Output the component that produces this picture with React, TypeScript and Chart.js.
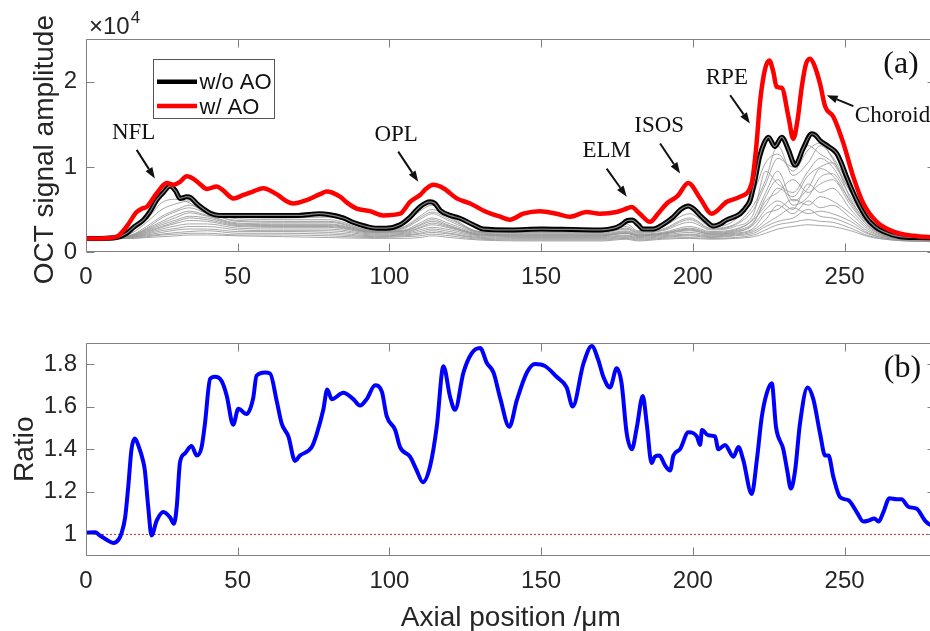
import React, { useEffect, useRef } from 'react';
import { Chart, registerables } from 'chart.js';

Chart.register(...registerables);

// ---------- tick labels ----------
const X_TICKS = [0, 50, 100, 150, 200, 250];
const AMP_TICKS = [0, 1, 2];
const RATIO_TICKS = [1, 1.2, 1.4, 1.6, 1.8];

// ---------- (a) OCT signal amplitude, units of 1e4 ----------
const woAoX = [0, 5, 10, 13.4, 16, 18.9, 21, 23.3, 25.5, 27.7, 29.5, 31, 33.2, 34.5, 36.5, 39, 40.9, 44, 50, 60, 70, 77, 80, 84.8, 88, 92.5, 96, 99, 103.5, 106.8, 110, 113.4, 115, 116.7, 120, 123, 127.6, 130.9, 140, 150, 160, 170, 174, 176, 178.5, 180, 182, 183.6, 187, 190, 193.5, 196, 198.5, 200.5, 202.4, 204.5, 206.7, 209, 211, 215.6, 218, 218.9, 220.5, 222, 223.5, 224.9, 227, 229.3, 231.5, 233.7, 236.4, 239.2, 240.5, 241.9, 244.7, 247.4, 249, 250.7, 254, 257.3, 260, 262.8, 268.3, 274, 280];
const woAoY = [0.16, 0.16, 0.17, 0.22, 0.30, 0.375, 0.47, 0.61, 0.70, 0.775, 0.72, 0.63, 0.65, 0.64, 0.57, 0.50, 0.455, 0.43, 0.43, 0.43, 0.43, 0.45, 0.44, 0.40, 0.35, 0.30, 0.28, 0.28, 0.32, 0.41, 0.53, 0.59, 0.57, 0.49, 0.43, 0.40, 0.32, 0.27, 0.26, 0.27, 0.265, 0.26, 0.28, 0.31, 0.37, 0.375, 0.32, 0.27, 0.27, 0.32, 0.41, 0.50, 0.54, 0.50, 0.43, 0.36, 0.305, 0.33, 0.375, 0.45, 0.55, 0.61, 0.85, 1.12, 1.28, 1.35, 1.24, 1.35, 1.20, 1.02, 1.22, 1.39, 1.37, 1.31, 1.24, 1.16, 1.04, 0.88, 0.61, 0.40, 0.30, 0.24, 0.18, 0.17, 0.165];

const wAoX = [0, 5, 10.1, 13.4, 16.7, 18.5, 20, 23.3, 26.6, 28.8, 31, 33.2, 35.4, 37.5, 39.8, 43.1, 45, 48.6, 51.9, 55, 58.4, 62.8, 66, 68.3, 72.7, 77.1, 79.3, 83.7, 86, 89.2, 93.6, 98, 103.5, 106.8, 110.1, 112, 114.5, 117.8, 122.2, 126.6, 132, 136.5, 139.7, 144.1, 149.6, 155.1, 159.5, 165, 169.4, 174.9, 177.5, 179.8, 182.5, 185.9, 188.5, 191.4, 195, 198.5, 202.4, 206.2, 211.2, 215.6, 219.4, 220.8, 222.2, 223.8, 225.2, 226.5, 227.6, 229.3, 231.5, 233.1, 234.5, 235.9, 237.2, 238.6, 240.2, 241.9, 243.6, 246.3, 249.6, 252.9, 256.2, 260.6, 266.1, 272.7, 280];
const wAoY = [0.16, 0.16, 0.18, 0.30, 0.47, 0.51, 0.53, 0.69, 0.81, 0.79, 0.825, 0.89, 0.86, 0.80, 0.74, 0.77, 0.73, 0.63, 0.67, 0.71, 0.75, 0.68, 0.60, 0.57, 0.61, 0.68, 0.71, 0.65, 0.58, 0.51, 0.48, 0.43, 0.45, 0.59, 0.67, 0.74, 0.79, 0.75, 0.63, 0.57, 0.47, 0.415, 0.38, 0.45, 0.48, 0.45, 0.415, 0.47, 0.45, 0.47, 0.50, 0.53, 0.45, 0.355, 0.45, 0.57, 0.66, 0.81, 0.63, 0.45, 0.59, 0.65, 0.81, 1.20, 1.78, 2.15, 2.25, 2.12, 1.94, 1.93, 1.59, 1.33, 1.55, 1.94, 2.20, 2.27, 2.18, 1.98, 1.71, 1.59, 1.28, 0.88, 0.57, 0.355, 0.24, 0.19, 0.17];

// individual (gray) traces, sampled at grayX
const grayX = [0, 10, 15, 20, 25, 30, 34, 40, 50, 65, 80, 95, 105, 110, 114, 120, 130, 150, 170, 178, 182, 190, 199, 206, 214, 220, 224, 228, 233, 238, 242, 246, 252, 258, 266, 280];
const gray01 = [0.16, 0.17, 0.25, 0.38, 0.58, 0.62, 0.58, 0.45, 0.41, 0.40, 0.41, 0.26, 0.33, 0.48, 0.55, 0.42, 0.24, 0.25, 0.25, 0.33, 0.25, 0.30, 0.45, 0.30, 0.38, 0.70, 1.05, 1.15, 0.95, 1.20, 1.28, 1.10, 0.70, 0.34, 0.19, 0.15];
const gray02 = [0.16, 0.17, 0.22, 0.35, 0.50, 0.57, 0.60, 0.50, 0.39, 0.38, 0.38, 0.25, 0.30, 0.42, 0.50, 0.40, 0.23, 0.24, 0.24, 0.30, 0.24, 0.27, 0.40, 0.28, 0.33, 0.55, 0.85, 1.25, 0.90, 1.05, 1.25, 1.12, 0.75, 0.38, 0.19, 0.15];
const gray03 = [0.16, 0.17, 0.20, 0.30, 0.42, 0.50, 0.55, 0.47, 0.36, 0.35, 0.35, 0.24, 0.28, 0.38, 0.45, 0.36, 0.23, 0.22, 0.22, 0.27, 0.22, 0.25, 0.35, 0.26, 0.30, 0.45, 0.95, 0.80, 0.70, 0.95, 1.10, 1.00, 0.65, 0.35, 0.19, 0.15];
const gray04 = [0.16, 0.17, 0.19, 0.27, 0.36, 0.44, 0.48, 0.43, 0.34, 0.33, 0.33, 0.24, 0.26, 0.34, 0.40, 0.33, 0.22, 0.21, 0.21, 0.25, 0.21, 0.23, 0.30, 0.24, 0.27, 0.40, 0.70, 0.95, 0.60, 0.75, 0.98, 0.90, 0.60, 0.33, 0.18, 0.14];
const gray05 = [0.16, 0.17, 0.19, 0.25, 0.32, 0.38, 0.42, 0.40, 0.32, 0.31, 0.31, 0.23, 0.25, 0.31, 0.36, 0.30, 0.21, 0.20, 0.20, 0.23, 0.20, 0.22, 0.27, 0.22, 0.25, 0.35, 0.60, 0.70, 0.85, 0.70, 0.80, 0.85, 0.55, 0.30, 0.18, 0.14];
const gray06 = [0.16, 0.16, 0.18, 0.23, 0.29, 0.34, 0.37, 0.36, 0.30, 0.29, 0.29, 0.22, 0.23, 0.28, 0.32, 0.28, 0.20, 0.19, 0.19, 0.22, 0.19, 0.21, 0.25, 0.21, 0.23, 0.32, 0.50, 0.60, 0.50, 0.80, 0.70, 0.75, 0.50, 0.28, 0.17, 0.14];
const gray07 = [0.16, 0.16, 0.18, 0.22, 0.27, 0.31, 0.33, 0.33, 0.28, 0.27, 0.27, 0.21, 0.22, 0.26, 0.29, 0.26, 0.19, 0.18, 0.18, 0.20, 0.18, 0.20, 0.23, 0.20, 0.22, 0.28, 0.45, 0.50, 0.62, 0.55, 0.65, 0.60, 0.45, 0.26, 0.16, 0.13];
const gray08 = [0.16, 0.16, 0.17, 0.21, 0.25, 0.28, 0.30, 0.30, 0.26, 0.25, 0.25, 0.20, 0.21, 0.24, 0.27, 0.24, 0.18, 0.17, 0.17, 0.19, 0.17, 0.19, 0.21, 0.19, 0.21, 0.26, 0.38, 0.55, 0.45, 0.60, 0.52, 0.55, 0.40, 0.24, 0.16, 0.13];
const gray09 = [0.16, 0.16, 0.17, 0.20, 0.23, 0.26, 0.27, 0.27, 0.24, 0.24, 0.23, 0.19, 0.20, 0.22, 0.25, 0.22, 0.17, 0.16, 0.16, 0.18, 0.16, 0.18, 0.20, 0.18, 0.20, 0.24, 0.33, 0.42, 0.52, 0.45, 0.48, 0.45, 0.36, 0.22, 0.15, 0.13];
const gray10 = [0.16, 0.16, 0.17, 0.19, 0.21, 0.23, 0.24, 0.25, 0.22, 0.22, 0.21, 0.18, 0.19, 0.21, 0.23, 0.21, 0.16, 0.15, 0.15, 0.17, 0.15, 0.17, 0.19, 0.17, 0.19, 0.22, 0.30, 0.36, 0.40, 0.50, 0.42, 0.40, 0.32, 0.21, 0.15, 0.12];
const gray11 = [0.16, 0.16, 0.16, 0.18, 0.20, 0.21, 0.22, 0.22, 0.20, 0.20, 0.19, 0.17, 0.18, 0.19, 0.21, 0.19, 0.15, 0.14, 0.14, 0.16, 0.14, 0.16, 0.17, 0.16, 0.17, 0.20, 0.26, 0.32, 0.35, 0.38, 0.36, 0.35, 0.28, 0.19, 0.14, 0.12];
const gray12 = [0.16, 0.16, 0.16, 0.17, 0.18, 0.19, 0.20, 0.20, 0.19, 0.18, 0.17, 0.16, 0.16, 0.17, 0.19, 0.17, 0.14, 0.13, 0.13, 0.15, 0.13, 0.15, 0.16, 0.15, 0.16, 0.18, 0.22, 0.27, 0.30, 0.32, 0.31, 0.30, 0.25, 0.18, 0.14, 0.12];
const gray13 = [0.16, 0.17, 0.20, 0.28, 0.40, 0.48, 0.52, 0.45, 0.37, 0.36, 0.36, 0.25, 0.29, 0.40, 0.47, 0.38, 0.24, 0.23, 0.23, 0.28, 0.23, 0.26, 0.38, 0.27, 0.32, 0.50, 0.80, 1.10, 1.00, 1.25, 1.15, 1.05, 0.70, 0.36, 0.19, 0.15];
const gray14 = [0.16, 0.17, 0.19, 0.26, 0.34, 0.41, 0.46, 0.42, 0.33, 0.32, 0.32, 0.24, 0.25, 0.32, 0.38, 0.31, 0.21, 0.20, 0.20, 0.24, 0.20, 0.22, 0.28, 0.23, 0.26, 0.38, 0.55, 0.75, 0.65, 0.90, 1.00, 1.05, 0.62, 0.32, 0.18, 0.14];
const gray15 = [0.16, 0.16, 0.18, 0.24, 0.30, 0.36, 0.40, 0.38, 0.31, 0.30, 0.30, 0.23, 0.24, 0.29, 0.34, 0.29, 0.20, 0.19, 0.19, 0.22, 0.19, 0.21, 0.26, 0.21, 0.24, 0.34, 0.65, 0.85, 0.55, 0.65, 0.88, 0.92, 0.58, 0.30, 0.17, 0.14];
const grayTraces = [gray01, gray02, gray03, gray04, gray05, gray06, gray07, gray08, gray09, gray10, gray11, gray12, gray13, gray14, gray15];

// ---------- (b) ratio ----------
const ratioX = [0, 3, 4.6, 6.8, 9, 10.7, 11.7, 12.9, 13.9, 15, 16.1, 17.2, 18.9, 19.4, 20.5, 21.6, 23.3, 25.5, 27.7, 29, 29.9, 31, 32.6, 34.8, 36.5, 38.1, 39.2, 40.9, 42.5, 44.7, 46.4, 48.5, 50.2, 52.9, 55.1, 56.2, 59, 60.7, 62.8, 64.5, 66.7, 68.9, 70.5, 74.4, 76, 78.2, 79.5, 81, 84.8, 88.1, 90.3, 92.5, 95.3, 97.5, 99.1, 101.9, 103.5, 106.8, 109, 111, 113.4, 115.6, 117.8, 120, 121.6, 124.4, 127.1, 129.9, 132.1, 134.3, 136.5, 139.5, 142, 145.3, 148, 151.3, 155.1, 158.4, 160.4, 163.9, 166.7, 168.8, 170.5, 172.7, 174.9, 176.5, 178.2, 179.9, 181.5, 183.5, 184.8, 186.4, 187.5, 189, 190.8, 192.5, 193.6, 195.8, 198.5, 201.3, 202.4, 203, 205.1, 207.3, 208.4, 210.6, 213.4, 215, 216.6, 219.4, 221.1, 222.7, 224.4, 226, 227.4, 229.8, 231.1, 232.3, 233.7, 235.3, 237.8, 239.7, 241.9, 243.6, 244.7, 246.3, 248.5, 251.3, 254, 256.2, 257.9, 259.8, 261.2, 262.8, 264.8, 267.2, 268.8, 271, 273.8, 276.5, 278.2, 280];
const ratioY = [1.008, 1.01, 0.995, 0.975, 0.96, 0.975, 1.005, 1.08, 1.22, 1.40, 1.45, 1.42, 1.34, 1.30, 1.13, 0.995, 1.065, 1.105, 1.08, 1.05, 1.13, 1.34, 1.38, 1.415, 1.37, 1.41, 1.52, 1.73, 1.74, 1.72, 1.65, 1.515, 1.59, 1.565, 1.64, 1.745, 1.76, 1.755, 1.63, 1.52, 1.46, 1.345, 1.37, 1.41, 1.47, 1.585, 1.68, 1.635, 1.665, 1.635, 1.605, 1.635, 1.70, 1.67, 1.555, 1.49, 1.41, 1.365, 1.30, 1.245, 1.32, 1.505, 1.79, 1.645, 1.585, 1.76, 1.85, 1.875, 1.805, 1.76, 1.64, 1.505, 1.63, 1.76, 1.80, 1.79, 1.74, 1.69, 1.60, 1.80, 1.885, 1.82, 1.74, 1.69, 1.78, 1.71, 1.475, 1.40, 1.50, 1.65, 1.52, 1.335, 1.365, 1.37, 1.325, 1.30, 1.37, 1.40, 1.48, 1.46, 1.42, 1.49, 1.465, 1.46, 1.40, 1.42, 1.365, 1.41, 1.35, 1.19, 1.35, 1.55, 1.665, 1.71, 1.505, 1.40, 1.30, 1.215, 1.30, 1.52, 1.69, 1.635, 1.475, 1.37, 1.37, 1.27, 1.175, 1.16, 1.105, 1.06, 1.065, 1.075, 1.06, 1.105, 1.17, 1.165, 1.165, 1.13, 1.12, 1.065, 1.045, 1.04];
const unityX = [0, 280];
const unityY = [1, 1];

// ---------- annotations (data coordinates) ----------
type Note = { text: string; x: number; y: number; x0: number; y0: number; x1: number; y1: number };
const LAYER_NOTES: Note[] = [
  { text: 'NFL', x: 15.7, y: 1.40, x0: 16.7, y0: 1.20, x1: 22.7, y1: 0.865 },
  { text: 'OPL', x: 102.2, y: 1.37, x0: 102.9, y0: 1.18, x1: 109.5, y1: 0.825 },
  { text: 'ELM', x: 171.6, y: 1.19, x0: 171.6, y0: 0.98, x1: 178.2, y1: 0.65 },
  { text: 'ISOS', x: 188.9, y: 1.485, x0: 189.2, y0: 1.276, x1: 195.8, y1: 0.924 },
  { text: 'RPE', x: 211.2, y: 2.048, x0: 212.3, y0: 1.843, x1: 218.8, y1: 1.511 },
  { text: 'Choroid', x: 265.8, y: 1.602, x0: 252.9, y0: 1.714, x1: 244.1, y1: 1.843 },
];

// ---------- styles ----------
const SANS = "'Liberation Sans', Arial, Helvetica, sans-serif";
const SERIF = "'Liberation Serif', 'Times New Roman', serif";
const TEXT = '#262626';
const FRAME = '#808080';
const RED = '#ff0000';
const BLUE = '#0000ff';
const GRAY = 'rgba(150,150,150,0.85)';

function pts(xs: number[], ys: number[]) {
  return xs.map((x, i) => ({ x, y: ys[i] }));
}

function line(data: any[], color: string, width: number, extra: any = {}) {
  return {
    data,
    borderColor: color,
    backgroundColor: color,
    borderWidth: width,
    pointRadius: 0,
    fill: false,
    cubicInterpolationMode: 'monotone',
    ...extra,
  };
}

function xScale(height: number) {
  return {
    type: 'linear',
    min: 0,
    max: 280,
    afterBuildTicks: (s: any) => {
      s.ticks = X_TICKS.map((v) => ({ value: v }));
    },
    afterFit: (s: any) => {
      s.height = height;
    },
    grid: { display: false, drawTicks: false },
    border: { display: false },
    ticks: {
      color: TEXT,
      font: { family: SANS, size: 24 },
      padding: 11,
      maxRotation: 0,
      autoSkip: false,
      callback: (v: any) => String(v),
    },
  };
}

function yScale(min: number, max: number, tickVals: number[]) {
  return {
    type: 'linear',
    min,
    max,
    afterBuildTicks: (s: any) => {
      s.ticks = tickVals.map((v) => ({ value: v }));
    },
    afterFit: (s: any) => {
      s.width = 86;
    },
    grid: { display: false, drawTicks: false },
    border: { display: false },
    ticks: {
      color: TEXT,
      font: { family: SANS, size: 24 },
      padding: 9,
      autoSkip: false,
      callback: (v: any) => String(v),
    },
  };
}

function drawFrame(chart: any) {
  const { ctx, chartArea: a, scales } = chart;
  const L = Math.round(a.left) + 0.5;
  const R = Math.round(a.right) - 0.5;
  const T = Math.round(a.top) + 0.5;
  const B = Math.round(a.bottom) - 0.5;
  const TL = 8;
  ctx.save();
  ctx.strokeStyle = FRAME;
  ctx.lineWidth = 1;
  ctx.beginPath();
  ctx.rect(L, T, R - L, B - T);
  scales.x.ticks.forEach((t: any) => {
    const p = Math.round(scales.x.getPixelForValue(t.value)) + 0.5;
    ctx.moveTo(p, B);
    ctx.lineTo(p, B - TL);
    ctx.moveTo(p, T);
    ctx.lineTo(p, T + TL);
  });
  scales.y.ticks.forEach((t: any) => {
    const p = Math.round(scales.y.getPixelForValue(t.value)) + 0.5;
    ctx.moveTo(L, p);
    ctx.lineTo(L + TL, p);
    ctx.moveTo(R, p);
    ctx.lineTo(R - TL, p);
  });
  ctx.stroke();
  ctx.restore();
}

function drawRotated(ctx: any, text: string, x: number, y: number, font: string) {
  ctx.save();
  ctx.translate(x, y);
  ctx.rotate(-Math.PI / 2);
  ctx.font = font;
  ctx.fillStyle = TEXT;
  ctx.textAlign = 'center';
  ctx.textBaseline = 'alphabetic';
  ctx.fillText(text, 0, 0);
  ctx.restore();
}

function drawArrow(ctx: any, x0: number, y0: number, x1: number, y1: number) {
  const ang = Math.atan2(y1 - y0, x1 - x0);
  const hl = 11;
  const hw = 4;
  const bx = x1 - hl * Math.cos(ang);
  const by = y1 - hl * Math.sin(ang);
  ctx.save();
  ctx.strokeStyle = '#111';
  ctx.fillStyle = '#111';
  ctx.lineWidth = 2;
  ctx.beginPath();
  ctx.moveTo(x0, y0);
  ctx.lineTo(bx, by);
  ctx.stroke();
  ctx.beginPath();
  ctx.moveTo(x1, y1);
  ctx.lineTo(bx + hw * Math.sin(ang), by - hw * Math.cos(ang));
  ctx.lineTo(bx - hw * Math.sin(ang), by + hw * Math.cos(ang));
  ctx.closePath();
  ctx.fill();
  ctx.restore();
}

const ampDecor = {
  id: 'ampDecor',
  afterDatasetsDraw(chart: any) {
    const { ctx, chartArea: a, scales } = chart;
    const sx = scales.x;
    const sy = scales.y;
    drawFrame(chart);

    // y title
    drawRotated(ctx, 'OCT signal amplitude', a.left - 33, (a.top + a.bottom) / 2 + 4, `28px ${SANS}`);

    // exponent label
    ctx.save();
    ctx.fillStyle = TEXT;
    ctx.textBaseline = 'alphabetic';
    ctx.textAlign = 'left';
    ctx.font = `24px ${SANS}`;
    const base = '\u00d710';
    ctx.fillText(base, a.left + 3, a.top - 5);
    const w = ctx.measureText(base).width;
    ctx.font = `17px ${SANS}`;
    ctx.fillText('4', a.left + 4 + w, a.top - 16);
    ctx.restore();

    // legend
    const lx = a.left + 67;
    const ly = a.top + 20;
    ctx.save();
    ctx.fillStyle = '#fff';
    ctx.fillRect(lx, ly, 121, 59);
    ctx.strokeStyle = '#555';
    ctx.lineWidth = 1;
    ctx.strokeRect(Math.round(lx) + 0.5, Math.round(ly) + 0.5, 121, 59);
    const items = [
      { label: 'w/o AO', color: '#000', dy: 22.5 },
      { label: 'w/ AO', color: RED, dy: 46.7 },
    ];
    items.forEach((it) => {
      ctx.strokeStyle = it.color;
      ctx.lineWidth = 4.5;
      ctx.beginPath();
      ctx.moveTo(lx + 4, ly + it.dy);
      ctx.lineTo(lx + 44, ly + it.dy);
      ctx.stroke();
      ctx.fillStyle = '#111';
      ctx.font = `22px ${SANS}`;
      ctx.textAlign = 'left';
      ctx.textBaseline = 'alphabetic';
      ctx.fillText(it.label, lx + 46.5, ly + it.dy + 7.5);
    });
    ctx.restore();

    // layer annotations
    ctx.save();
    ctx.font = `23px ${SERIF}`;
    ctx.fillStyle = '#111';
    ctx.textAlign = 'center';
    ctx.textBaseline = 'middle';
    LAYER_NOTES.forEach((n) => {
      ctx.fillText(n.text, sx.getPixelForValue(n.x), sy.getPixelForValue(n.y));
      drawArrow(ctx, sx.getPixelForValue(n.x0), sy.getPixelForValue(n.y0), sx.getPixelForValue(n.x1), sy.getPixelForValue(n.y1));
    });
    ctx.font = `32px ${SERIF}`;
    ctx.fillText('(a)', sx.getPixelForValue(268.6), sy.getPixelForValue(2.207));
    ctx.restore();
  },
};

const ratioDecor = {
  id: 'ratioDecor',
  afterDatasetsDraw(chart: any) {
    const { ctx, chartArea: a, scales } = chart;
    drawFrame(chart);
    drawRotated(ctx, 'Ratio', a.left - 53, (a.top + a.bottom) / 2, `28px ${SANS}`);
    ctx.save();
    ctx.fillStyle = TEXT;
    ctx.font = `28px ${SANS}`;
    ctx.textAlign = 'center';
    ctx.textBaseline = 'alphabetic';
    ctx.fillText('Axial position /\u03bcm', (a.left + a.right) / 2, a.bottom + 70.3);
    ctx.fillStyle = '#111';
    ctx.font = `32px ${SERIF}`;
    ctx.textBaseline = 'middle';
    ctx.fillText('(b)', scales.x.getPixelForValue(269.1), scales.y.getPixelForValue(1.779));
    ctx.restore();
  },
};

function ampConfig(): any {
  const datasets: any[] = [
    line(pts(wAoX, wAoY), RED, 4.5),
    line(pts(woAoX, woAoY), GRAY, 1.2),
    line(pts(woAoX, woAoY), '#000', 5),
    ...grayTraces.map((g) => line(pts(grayX, g), GRAY, 1)),
  ];
  return {
    type: 'line',
    data: { datasets },
    options: {
      responsive: false,
      animation: false,
      devicePixelRatio: 1,
      layout: { padding: { left: 0, right: 9.4, top: 39.3, bottom: 0 } },
      plugins: { legend: { display: false }, tooltip: { enabled: false } },
      scales: { x: xScale(48), y: yScale(0, 2.5, AMP_TICKS) },
    },
    plugins: [ampDecor],
  };
}

function ratioConfig(): any {
  return {
    type: 'line',
    data: {
      datasets: [
        line(pts(ratioX, ratioY), BLUE, 4),
        line(pts(unityX, unityY), '#e02020', 1, { borderDash: [2, 2] }),
      ],
    },
    options: {
      responsive: false,
      animation: false,
      devicePixelRatio: 1,
      layout: { padding: { left: 0, right: 9.4, top: 42.7, bottom: 0 } },
      plugins: { legend: { display: false }, tooltip: { enabled: false } },
      scales: { x: xScale(84.3), y: yScale(0.9, 1.9, RATIO_TICKS) },
    },
    plugins: [ratioDecor],
  };
}

export default function App() {
  const topRef = useRef<HTMLCanvasElement>(null);
  const botRef = useRef<HTMLCanvasElement>(null);

  useEffect(() => {
    const c1 = new Chart(topRef.current as HTMLCanvasElement, ampConfig());
    const c2 = new Chart(botRef.current as HTMLCanvasElement, ratioConfig());
    return () => {
      c1.destroy();
      c2.destroy();
    };
  }, []);

  return (
    <div
      style={{
        position: 'absolute',
        left: 0,
        top: 0,
        width: 930,
        height: 631,
        overflow: 'hidden',
        background: '#fff',
      }}
    >
      <canvas ref={topRef} width={945} height={300} style={{ position: 'absolute', left: 0, top: 0 }} />
      <canvas ref={botRef} width={945} height={340} style={{ position: 'absolute', left: 0, top: 300 }} />
    </div>
  );
}
